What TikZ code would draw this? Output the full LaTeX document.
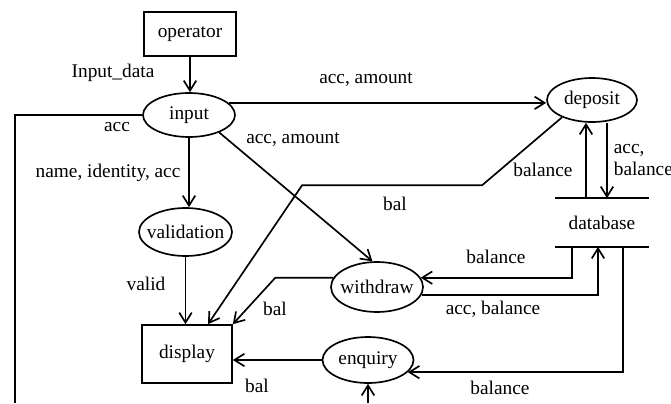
\documentclass[tikz,border=0pt]{standalone}
\usepackage{fontspec}
\setmainfont{Liberation Serif}
\usetikzlibrary{shapes.geometric,arrows.meta}

\begin{document}
\begin{tikzpicture}[x=0.6pt,y=-0.6pt,
		font=\fontsize{11.6}{13.5}\selectfont,
		line width=1pt,
		flow/.style={-{Straight Barb[length=6pt,width=7.5pt]}},
		proc/.style={draw,ellipse,inner sep=0pt,inner xsep=-4pt},
		ext/.style={draw,rectangle,inner sep=0pt}]
		
		\useasboundingbox (0,0) rectangle (671,403);
		
		% Draw the external entities
		\node[ext,minimum width=55.2pt,minimum height=26.4pt] (operator) at (190,34) {operator};
		\node[ext,minimum width=54pt,minimum height=34.8pt] (display) at (187,354) {display};
		
		% Draw the processes
		\node[proc,minimum width=55.2pt,minimum height=26.4pt] (input) at (189,115) {input};
		\node[proc,minimum width=54pt,minimum height=26.4pt] (deposit) at (592,100) {deposit};
		\node[proc,minimum width=55.8pt,minimum height=28.8pt] (validation) at (185.5,232) {validation};
		\node[proc,minimum width=55.2pt,minimum height=30pt] (withdraw) at (377,287) {withdraw};
		\node[proc,minimum width=54.6pt,minimum height=27.6pt] (enquiry) at (368,360) {enquiry};
		
		% Draw the data store
		\node[minimum width=55.2pt,minimum height=28.2pt,inner sep=0pt] (database) at (602,222.5) {database};
		\draw (database.north west) -- (database.north east);
		\draw (database.south west) -- (database.south east);
		
		% Loose ends at the bottom edge
		\coordinate (accend) at (15,403);
		\coordinate (enqsrc) at (368,403);
		
		% Draw the data flows
		\draw[flow] (operator.south) -- (operator.south |- input.north);
		\draw[flow] (input.17) -- (input.17 -| deposit.west);
		\draw (input.west) -| (accend);
		\draw[flow] (input.south) -- (input.south |- validation.north);
		\draw[flow] (validation.south) -- (validation.south |- display.north);
		\draw[flow] (input.-30) -- (withdraw.100);
		\draw[flow] (deposit.210) -- ++(-80,68) -- ++(-180,0) -- ([xshift=12.6pt]display.north);
		\draw[flow] ([xshift=-9.6pt]database.north) -- ([xshift=-9.6pt]database.north |- deposit.south);
		\draw[flow] ([xshift=3pt]database.north |- deposit.south) -- ([xshift=3pt]database.north);
		\draw[flow] ([xshift=-18pt]database.south) |- (withdraw.12);
		\draw[flow] (withdraw.-10) -| ([xshift=-2.4pt]database.south);
		\draw[flow] (withdraw.168) -- ++(-58,0) -- (display.north east);
		\draw[flow] ([xshift=12.6pt]database.south) |- (enquiry.-17);
		\draw[flow] (enquiry.west) -- (enquiry.west -| display.east);
		\draw[flow] (enqsrc) -- (enquiry.south);
		
		% Labels for the data flows
		\node (lbldata) at (113,73) {Input\_data};
		\node (lbldepin) at (366,80) {acc, amount};
		\node (lblacc) at (117,127) {acc};
		\node (lblname) at (108,173) {name, identity, acc};
		\node (lblwdin) at (293,140) {acc, amount};
		\node (lbldepbal) at (543,170) {balance};
		\node[anchor=west,align=left,inner sep=0pt] (lbldepacc) at (613,160) {acc,\\balance};
		\node (lbldepout) at (395,204) {bal};
		\node (lblvalid) at (146,284) {valid};
		\node (lblwdout) at (275,309) {bal};
		\node (lblwdbal) at (496,257) {balance};
		\node (lblwdacc) at (493,309) {acc, balance};
		\node (lblenqout) at (257,386) {bal};
		\node (lblenqbal) at (500,388) {balance};
		
	\end{tikzpicture}
\end{document}
